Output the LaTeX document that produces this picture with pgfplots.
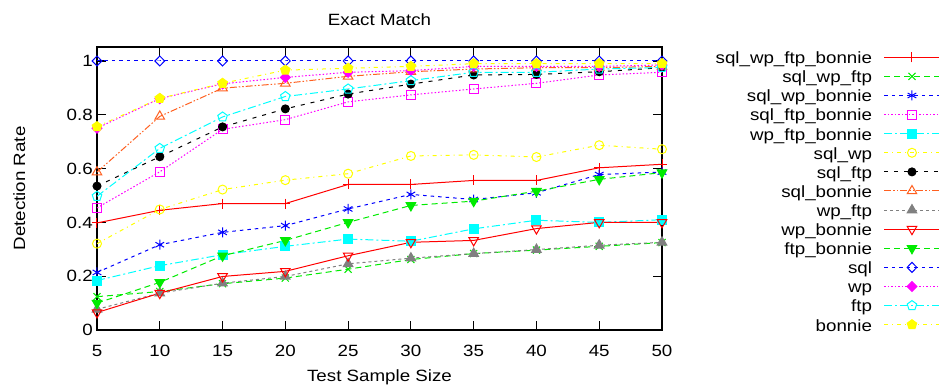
\documentclass[border=0pt]{standalone}
\usepackage{fontspec}
\setmainfont{Liberation Sans}[FakeStretch=1.15]
\usepackage{pgfplots}
\pgfplotsset{compat=1.18}
\usepackage{pgfplotstable}

\definecolor{cRed}{RGB}{255,0,0}
\definecolor{cGreen}{RGB}{0,235,0}
\definecolor{cBlue}{RGB}{0,0,255}
\definecolor{cMag}{RGB}{255,0,255}
\definecolor{cCyan}{RGB}{0,255,255}
\definecolor{cYel}{RGB}{255,255,0}
\definecolor{cOra}{RGB}{255,96,32}
\definecolor{cGray}{RGB}{128,128,128}

\pgfplotsset{
  sA/.style={color=cRed, solid, mark=+, mark size=5bp, mark options={solid}},
  sB/.style={color=cGreen, dash pattern=on 6bp off 4bp, mark=x, mark size=5bp, mark options={solid}},
  sC/.style={color=cBlue, dash pattern=on 3.5bp off 4bp, mark=asterisk, mark size=5bp, mark options={solid}},
  sD/.style={color=cMag, dash pattern=on 1.5bp off 2bp, mark=square, mark size=4.5bp, mark options={solid}},
  sE/.style={color=cCyan, dash pattern=on 8bp off 3bp on 2bp off 3bp, mark=square*, mark size=4.5bp, mark options={solid}},
  sF/.style={color=cYel, dash pattern=on 4bp off 4bp on 1bp off 4bp, mark=o, mark size=4.5bp, mark options={solid}},
  sG/.style={color=black, dash pattern=on 4bp off 6bp, mark=*, mark size=4bp, mark options={solid}},
  sH/.style={color=cOra, dash pattern=on 7bp off 2bp on 1.5bp off 2bp on 1.5bp off 2bp, mark=triangle, mark size=5.5bp, mark options={solid}},
  sI/.style={color=cGray, dash pattern=on 3bp off 3bp, mark=triangle*, mark size=5.5bp, mark options={solid}},
  sJ/.style={color=cRed, solid, mark=triangle, mark size=5.5bp, mark options={solid, rotate=180}},
  sK/.style={color=cGreen, dash pattern=on 6bp off 4bp, mark=triangle*, mark size=5.5bp, mark options={solid, rotate=180}},
  sL/.style={color=cBlue, dash pattern=on 3.5bp off 4bp, mark=diamond, mark size=5bp, mark options={solid, xscale=1.3}},
  sM/.style={color=cMag, dash pattern=on 1.5bp off 2bp, mark=diamond*, mark size=5bp, mark options={solid, xscale=1.3}},
  sN/.style={color=cCyan, dash pattern=on 8bp off 3bp on 2bp off 3bp, mark=pentagon, mark size=5bp, mark options={solid}},
  sO/.style={color=cYel, dash pattern=on 4bp off 4bp on 1bp off 4bp, mark=pentagon*, mark size=5bp, mark options={solid}},
}

\pgfplotstableread{
x  a     b     c     d     e     f     g     h     i     j     k     l    m     n     o
5  0.398 0.124 0.214 0.454 0.184 0.321 0.535 0.587 0.077 0.065 0.100 1.0  0.750 0.497 0.756
10 0.445 0.143 0.317 0.588 0.239 0.448 0.644 0.794 0.137 0.137 0.177 1.0  0.860 0.675 0.861
15 0.470 0.172 0.363 0.746 0.280 0.522 0.755 0.899 0.174 0.199 0.276 1.0  0.915 0.792 0.917
20 0.470 0.193 0.388 0.782 0.311 0.557 0.822 0.917 0.199 0.218 0.333 1.0  0.939 0.868 0.966
25 0.541 0.226 0.450 0.848 0.338 0.581 0.877 0.943 0.246 0.276 0.400 1.0  0.958 0.896 0.973
30 0.541 0.262 0.504 0.874 0.330 0.647 0.914 0.960 0.267 0.326 0.463 1.0  0.964 0.927 0.980
35 0.556 0.284 0.485 0.896 0.376 0.651 0.948 0.970 0.284 0.333 0.479 1.0  0.980 0.958 0.990
40 0.556 0.297 0.510 0.917 0.408 0.643 0.950 0.975 0.299 0.377 0.516 1.0  0.980 0.958 0.990
45 0.603 0.311 0.578 0.948 0.400 0.687 0.960 0.975 0.315 0.400 0.560 1.0  0.980 0.970 0.990
50 0.616 0.325 0.587 0.958 0.410 0.672 0.975 0.980 0.326 0.400 0.585 1.0  0.985 0.976 0.990
}\data

\begin{document}
\begin{tikzpicture}[font=\fontsize{16.3bp}{19.5bp}\selectfont]
\begin{axis}[
  scale only axis, width=565bp, height=283bp,
  xmin=5, xmax=50, ymin=0, ymax=1.052,
  clip=false,
  xtick={5,10,15,20,25,30,35,40,45,50},
  ytick={0,0.2,0.4,0.6,0.8,1},
  tick pos=both, tick align=inside,
  xticklabel pos=lower, yticklabel pos=left,
  major tick length=8.7bp,
  every tick/.style={black, line width=1.1bp},
  axis line style={black, line width=1.2bp},
  /pgf/number format/assume math mode=true,
  xticklabel style={anchor=base, inner sep=0pt, yshift=-26.7bp},
  yticklabel style={anchor=east, inner sep=0pt, xshift=-4bp},
  title={Exact Match},
  every axis title/.style={at={(axis description cs:0.5,1.0742)}, anchor=base, inner sep=0pt},
  xlabel={Test Sample Size},
  xlabel style={at={(axis description cs:0.5,-0.1827)}, anchor=base, inner sep=0pt},
  ylabel={Detection Rate},
  ylabel style={at={(axis description cs:-0.1274,0.5)}, anchor=base, inner sep=0pt},
  legend plot pos=right,
  legend cell align=right,
  legend image code/.code={\draw[mark repeat=2,mark phase=2,#1] plot coordinates {(0bp,0bp)(27.5bp,0bp)(55bp,0bp)};},
  legend style={draw=none, fill=none, at={(axis description cs:1.492,0.9974)}, anchor=north east,
    inner sep=0pt, outer sep=0pt, row sep=0pt, column sep=12bp,
    font=\fontsize{16.3bp}{19.5bp}\selectfont,
    nodes={inner sep=0pt, text height=15.95bp, text depth=3.15bp}},
  every axis plot/.append style={line width=1bp},
]
\addplot[sA, forget plot] table[x=x,y=a]{\data};
\addplot[sB, forget plot] table[x=x,y=b]{\data};
\addplot[sC, forget plot] table[x=x,y=c]{\data};
\addplot[sD, forget plot] table[x=x,y=d]{\data};
\addplot[sE, forget plot] table[x=x,y=e]{\data};
\addplot[sF, forget plot] table[x=x,y=f]{\data};
\addplot[sG, forget plot] table[x=x,y=g]{\data};
\addplot[sH, forget plot] table[x=x,y=h]{\data};
\addplot[sI, forget plot] table[x=x,y=i]{\data};
\addplot[sJ, forget plot] table[x=x,y=j]{\data};
\addplot[sK, forget plot] table[x=x,y=k]{\data};
\addplot[sL, forget plot] table[x=x,y=l]{\data};
\addplot[sM, forget plot] table[x=x,y=m]{\data};
\addplot[sN, forget plot] table[x=x,y=n]{\data};
\addplot[sO, forget plot] table[x=x,y=o]{\data};
\addlegendimage{legend image code/.code={\draw[draw=cRed, line width=1bp] (0bp,0bp) -- (55bp,0bp) (27.5bp,-5bp) -- (27.5bp,5bp) (22.5bp,0bp) -- (32.5bp,0bp);}}\addlegendentry{sql\_wp\_ftp\_bonnie}
\addlegendimage{sB, line width=1bp}\addlegendentry{sql\_wp\_ftp}
\addlegendimage{sC, line width=1bp}\addlegendentry{sql\_wp\_bonnie}
\addlegendimage{sD, line width=1bp}\addlegendentry{sql\_ftp\_bonnie}
\addlegendimage{sE, line width=1bp}\addlegendentry{wp\_ftp\_bonnie}
\addlegendimage{sF, line width=1bp}\addlegendentry{sql\_wp}
\addlegendimage{sG, line width=1bp}\addlegendentry{sql\_ftp}
\addlegendimage{sH, line width=1bp}\addlegendentry{sql\_bonnie}
\addlegendimage{sI, line width=1bp}\addlegendentry{wp\_ftp}
\addlegendimage{sJ, line width=1bp}\addlegendentry{wp\_bonnie}
\addlegendimage{sK, line width=1bp}\addlegendentry{ftp\_bonnie}
\addlegendimage{sL, line width=1bp}\addlegendentry{sql}
\addlegendimage{sM, line width=1bp}\addlegendentry{wp}
\addlegendimage{sN, line width=1bp}\addlegendentry{ftp}
\addlegendimage{sO, line width=1bp}\addlegendentry{bonnie}
\end{axis}
\useasboundingbox (-97bp,-58bp) rectangle (846bp,330bp);
\end{tikzpicture}
\end{document}
